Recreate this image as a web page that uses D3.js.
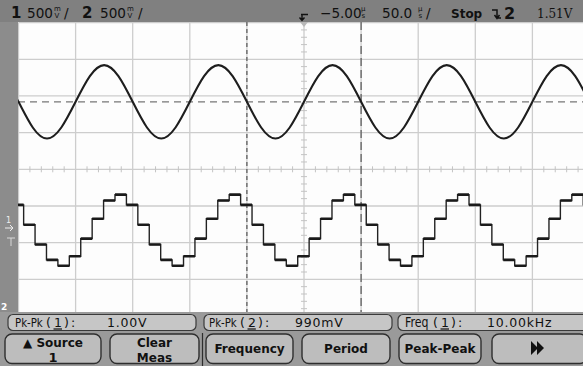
<!DOCTYPE html>
<html>
<head>
<meta charset="utf-8">
<script src="https://cdn.jsdelivr.net/npm/d3@7"></script>
<style>
  body { margin: 0; background: #fff; }
  svg text { font-family: "DejaVu Sans", sans-serif; fill: #111; }
  .bold { font-weight: bold; }
</style>
</head>
<body>
<svg id="scope" width="583" height="366"></svg>
<script>
// ---- data ----
// channel 1: sine, sampled every 12.5 us (volts about its own centre)
var ch1Times = [-262.5, -250, -237.5, -225, -212.5, -200, -187.5, -175, -162.5, -150, -137.5, -125,
  -112.5, -100, -87.5, -75, -62.5, -50, -37.5, -25, -12.5, 0, 12.5, 25, 37.5, 50, 62.5, 75,
  87.5, 100, 112.5, 125, 137.5, 150, 162.5, 175, 187.5, 200, 212.5, 225, 237.5, 250, 262.5];
var ch1Volts = [0.35, 0, -0.35, -0.5, -0.35, 0, 0.35, 0.5, 0.35, 0, -0.35, -0.5,
  -0.35, 0, 0.35, 0.5, 0.35, 0, -0.35, -0.5, -0.35, 0, 0.35, 0.5, 0.35, 0, -0.35, -0.5,
  -0.35, 0, 0.35, 0.5, 0.35, 0, -0.35, -0.5, -0.35, 0, 0.35, 0.5, 0.35, 0, -0.35];
// channel 2: staircase, one level per 10 us step, first step starts at -255.5 us
var ch2StepStart = -255.5;
var ch2StepWidth = 10;
var ch2Levels = [
  1.39, 1.12, 0.85, 0.64, 0.56, 0.69, 0.93, 1.20, 1.45, 1.53,
  1.39, 1.12, 0.85, 0.64, 0.56, 0.69, 0.93, 1.20, 1.45, 1.53,
  1.39, 1.12, 0.85, 0.64, 0.56, 0.69, 0.93, 1.20, 1.45, 1.53,
  1.39, 1.12, 0.85, 0.64, 0.56, 0.69, 0.93, 1.20, 1.45, 1.53,
  1.39, 1.12, 0.85, 0.64, 0.56, 0.69, 0.93, 1.20, 1.45, 1.53,
  1.39];
var ch1Offset = 1.84;   // divisions above centre
var ch2Offset = -3.75;  // divisions (ground marker)
var voltsPerDiv = 0.5;
var cursorTimes = [-50, 50];   // time cursors (us)
var timeTicks = d3.range(-250, 251, 50);
var voltTicks = d3.range(-4, 5, 1);

var measNames = ["Pk-Pk", "Pk-Pk", "Freq"];
var measSources = ["1", "2", "1"];
var measValues = ["1.00V", "990mV", "10.00kHz"];
var keyLabels = [["\u25B2 Source", "1"], ["Clear", "Meas"], ["Frequency"], ["Period"], ["Peak-Peak"], [""]];

var svg = d3.select("#scope");

// frame
svg.append("rect").attr("x", 0).attr("y", 0).attr("width", 583).attr("height", 366).attr("fill", "#8c8c8c");

var x = d3.scaleLinear().domain([-250, 250]).range([18.5, 589.5]);
var y = d3.scaleLinear().domain([-4, 4]).range([316, 22.6]);

// plot area
svg.append("defs").append("clipPath").attr("id", "plotclip")
  .append("rect").attr("x", 18).attr("y", 22).attr("width", 565).attr("height", 294.5);
svg.append("rect").attr("x", 18).attr("y", 22).attr("width", 565).attr("height", 294.5).attr("fill", "#fdfdfd");

var plot = svg.append("g").attr("clip-path", "url(#plotclip)");

// graticule
plot.selectAll(".vgrid").data(timeTicks).enter().append("line")
  .attr("x1", function(d) { return x(d); }).attr("x2", function(d) { return x(d); })
  .attr("y1", y(4)).attr("y2", y(-4))
  .attr("stroke", "#cdcdcd").attr("stroke-width", 1.3);
plot.selectAll(".hgrid").data(voltTicks).enter().append("line")
  .attr("y1", function(d) { return y(d); }).attr("y2", function(d) { return y(d); })
  .attr("x1", x(-250)).attr("x2", x(250))
  .attr("stroke", "#cdcdcd").attr("stroke-width", 1.3);

// minor ticks on the centre lines
var minorT = d3.range(-250, 250.1, 10).filter(function(d) { return d % 50 != 0; });
plot.selectAll(".mt").data(minorT).enter().append("line")
  .attr("x1", function(d) { return x(d); }).attr("x2", function(d) { return x(d); })
  .attr("y1", y(0) - 3).attr("y2", y(0) + 3)
  .attr("stroke", "#c4c4c4").attr("stroke-width", 1);
var minorV = d3.range(-4, 4.01, 0.2).filter(function(d) { return Math.abs(d - Math.round(d)) > 0.01; });
plot.selectAll(".mv").data(minorV).enter().append("line")
  .attr("y1", function(d) { return y(d); }).attr("y2", function(d) { return y(d); })
  .attr("x1", x(0) - 3).attr("x2", x(0) + 3)
  .attr("stroke", "#c4c4c4").attr("stroke-width", 1);

// cursors
plot.append("line").attr("x1", x(cursorTimes[0])).attr("x2", x(cursorTimes[0]))
  .attr("y1", 22).attr("y2", 317).attr("stroke", "#555").attr("stroke-width", 1.2)
  .attr("stroke-dasharray", "4,3");
plot.append("line").attr("x1", x(cursorTimes[1])).attr("x2", x(cursorTimes[1]))
  .attr("y1", 22).attr("y2", 317).attr("stroke", "#555").attr("stroke-width", 1.2)
  .attr("stroke-dasharray", "8,4");
plot.append("line").attr("x1", 18).attr("x2", 583)
  .attr("y1", y(ch1Offset)).attr("y2", y(ch1Offset))
  .attr("stroke", "#777").attr("stroke-width", 1.2).attr("stroke-dasharray", "7,5");

// channel 1 trace
var line1 = d3.line()
  .x(function(d, i) { return x(ch1Times[i]); })
  .y(function(d) { return y(ch1Offset + d / voltsPerDiv); })
  .curve(d3.curveNatural);
plot.append("path").attr("d", line1(ch1Volts))
  .attr("fill", "none").attr("stroke", "#1e1e1e").attr("stroke-width", 2.1);

// channel 2 trace
var steps = ch2Levels.map(function(v, i) {
  return { t0: ch2StepStart + i * ch2StepWidth, t1: ch2StepStart + (i + 1) * ch2StepWidth, v: v };
});
var pts = [];
steps.forEach(function(s) { pts.push([s.t0, s.v]); pts.push([s.t1, s.v]); });
var line2 = d3.line()
  .x(function(d) { return x(d[0]); })
  .y(function(d) { return y(ch2Offset + d[1] / voltsPerDiv); });
plot.append("path").attr("d", line2(pts))
  .attr("fill", "none").attr("stroke", "#222").attr("stroke-width", 1.4);
plot.selectAll(".plateau").data(steps).enter().append("line")
  .attr("x1", function(d) { return x(d.t0); }).attr("x2", function(d) { return x(d.t1); })
  .attr("y1", function(d) { return y(ch2Offset + d.v / voltsPerDiv); })
  .attr("y2", function(d) { return y(ch2Offset + d.v / voltsPerDiv); })
  .attr("stroke", "#1a1a1a").attr("stroke-width", 2.6);

// trigger position marker at top
svg.append("path").attr("d", "M300,22 L308,22 L304,27 Z").attr("fill", "#b8b8b8");

// left bar markers
svg.append("text").attr("x", 6).attr("y", 223).attr("font-size", 8).style("fill", "#eee").text("1");
svg.append("path").attr("d", "M5,228 L13,228 M10,225 L13,228 L10,231").attr("stroke", "#eee").attr("fill", "none");
svg.append("path").attr("d", "M7,238 L15,238 M11,238 L11,246").attr("stroke", "#d8d8d8").attr("fill", "none");
svg.append("text").attr("x", 1).attr("y", 310).attr("font-size", 9).attr("class", "bold").style("fill", "#fff").text("2");

// ---- header ----
svg.append("rect").attr("x", 0).attr("y", 0).attr("width", 583).attr("height", 22).attr("fill", "#808080");
function unitText(xp, top, bot) {
  var g = svg.append("g");
  g.append("text").attr("x", xp).attr("y", 11).attr("font-size", 7).text(top);
  g.append("text").attr("x", xp + 0.5).attr("y", 18).attr("font-size", 7).text(bot);
}
svg.append("text").attr("x", 11).attr("y", 18).attr("font-size", 15).attr("class", "bold").text("1");
svg.append("text").attr("x", 27).attr("y", 18).attr("font-size", 13.6).text("500");
unitText(54, "m", "V");
svg.append("text").attr("x", 64).attr("y", 18).attr("font-size", 13.6).text("/");
svg.append("text").attr("x", 82).attr("y", 18).attr("font-size", 15).attr("class", "bold").text("2");
svg.append("text").attr("x", 100).attr("y", 18).attr("font-size", 13.6).text("500");
unitText(127, "m", "V");
svg.append("text").attr("x", 138).attr("y", 18).attr("font-size", 13.6).text("/");

svg.append("path").attr("d", "M301,14.5 L308,14.5 M302,14.5 L302,20 M299.5,17.5 L302,20.5 L304.5,17.5")
  .attr("stroke", "#111").attr("stroke-width", 1.4).attr("fill", "none");
svg.append("text").attr("x", 320).attr("y", 18).attr("font-size", 13.6).text("\u22125.00");
unitText(361, "\u00B5", "s");
svg.append("text").attr("x", 382).attr("y", 18).attr("font-size", 13.6).text("50.0");
unitText(418, "\u00B5", "s");
svg.append("text").attr("x", 426).attr("y", 18).attr("font-size", 13.6).text("/");
svg.append("text").attr("x", 451).attr("y", 18).attr("font-size", 12).attr("class", "bold").text("Stop");
svg.append("path").attr("d", "M492,10 L497,10 L497,18 L501,18 M494.5,15 L497,18.5 L499.5,15")
  .attr("stroke", "#111").attr("stroke-width", 1.5).attr("fill", "none");
svg.append("text").attr("x", 504).attr("y", 18.5).attr("font-size", 16).attr("class", "bold").text("2");
svg.append("text").attr("x", 537).attr("y", 18).attr("font-size", 12).style("font-family", "DejaVu Serif").text("1.51V");

// ---- measurement line ----
svg.append("rect").attr("x", 0).attr("y", 312).attr("width", 583).attr("height", 54).attr("fill", "#9a9a9a");
var measBoxes = [[8, 196], [204, 392], [398, 590]];
var measLabelX = [15, 209, 405];
var measValueX = [107, 295, 487];
measBoxes.forEach(function(b, i) {
  svg.append("rect").attr("x", b[0]).attr("y", 314.5).attr("width", b[1] - b[0]).attr("height", 16)
    .attr("rx", 5).attr("fill", "#c6c6c6").attr("stroke", "#3a3a3a").attr("stroke-width", 1.2);
  var lx = measLabelX[i];
  var nameW = measNames[i] == "Freq" ? 25 : 28;
  // narrow label: smaller font stretched vertically
  svg.append("text").attr("transform", "translate(" + lx + ",327) scale(1,1.2)")
    .attr("font-size", measNames[i] == "Freq" ? 11 : 10.2).text(measNames[i]);
  var t = svg.append("text").attr("y", 327).attr("font-size", 12.5);
  t.append("tspan").attr("x", lx + nameW + 3).text("(");
  t.append("tspan").attr("x", lx + nameW + 11).text(measSources[i]);
  t.append("tspan").attr("x", lx + nameW + 21).text(")");
  t.append("tspan").attr("x", lx + nameW + 28).text(":");
  svg.append("line").attr("x1", lx + nameW + 10.5).attr("x2", lx + nameW + 19)
    .attr("y1", 329).attr("y2", 329).attr("stroke", "#111").attr("stroke-width", 1.2);
  svg.append("text").attr("x", measValueX[i]).attr("y", 327).attr("font-size", 12.5)
    .attr("letter-spacing", 0.8).text(measValues[i]);
});

// ---- softkeys ----
var keyX = [5, 110, 206, 302, 399, 492];
var keyW = [96, 89, 87, 88, 82, 95];
keyLabels.forEach(function(k, i) {
  svg.append("rect").attr("x", keyX[i]).attr("y", 334).attr("width", keyW[i]).attr("height", 29.5)
    .attr("rx", 7).attr("fill", "#bdbdbd").attr("stroke", "#2e2e2e").attr("stroke-width", 1.4);
  var cx = keyX[i] + keyW[i] / 2;
  if (k.length == 2) {
    svg.append("text").attr("x", cx).attr("y", 346.5).attr("text-anchor", "middle")
      .attr("font-size", 12).attr("class", "bold").text(k[0]);
    svg.append("text").attr("x", cx).attr("y", 361.5).attr("text-anchor", "middle")
      .attr("font-size", i == 0 ? 13 : 12).attr("class", "bold").text(k[1]);
  } else if (k[0] != "") {
    svg.append("text").attr("x", cx).attr("y", 353).attr("text-anchor", "middle")
      .attr("font-size", 12).attr("class", "bold").text(k[0]);
  }
});
svg.append("line").attr("x1", 202.5).attr("x2", 202.5).attr("y1", 333).attr("y2", 366)
  .attr("stroke", "#2e2e2e").attr("stroke-width", 1.2);
// "next" arrow key
svg.append("path").attr("d", "M531,341 L538,348 L531,355 Z M537,341 L544,348 L537,355 Z").attr("fill", "#111");
</script>
</body>
</html>
